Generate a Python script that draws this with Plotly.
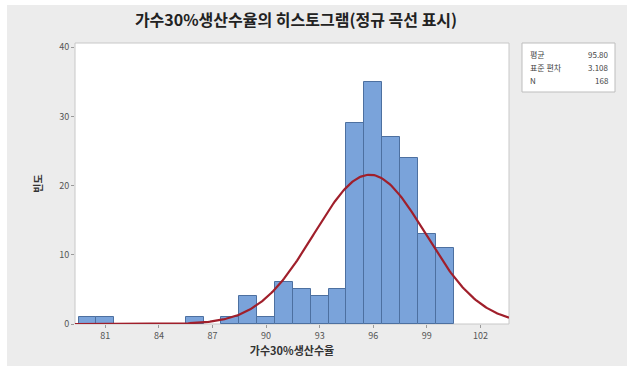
import numpy as np
import plotly.graph_objects as go

# Histogram bins (midpoints, width 1) and counts
bin_mid = [80, 81, 86, 88, 89, 90, 91, 92, 93, 94, 95, 96, 97, 98, 99, 100]
counts = [1, 1, 1, 1, 4, 1, 6, 5, 4, 5, 29, 35, 27, 24, 13, 11]

# Summary statistics shown in the side box
mean_val = 95.80
std_val = 3.108
n_val = 168
bin_width = 1.0

x_ticks = [81, 84, 87, 90, 93, 96, 99, 102]
y_ticks = [0, 10, 20, 30, 40]

title_text = "가수30%생산수율의 히스토그램(정규 곡선 표시)"
x_title = "가수30%생산수율"
y_title = "빈도"

FONT = "Noto Sans CJK KR"
W, H = 636, 372
ML, MR, MT, MB = 75, 127, 43, 48

# Fitted normal curve scaled to counts
xs = np.linspace(79.3, 103.6, 300)
ys = n_val * bin_width / (std_val * np.sqrt(2 * np.pi)) * np.exp(-0.5 * ((xs - mean_val) / std_val) ** 2)

fig = go.Figure()
fig.add_trace(go.Bar(
    x=bin_mid, y=counts, width=bin_width,
    marker=dict(color="#7aa3da", line=dict(color="#4d70a0", width=1)),
    hoverinfo="x+y",
))
fig.add_trace(go.Scatter(
    x=xs, y=ys, mode="lines",
    line=dict(color="#a01f2b", width=2.2),
    hoverinfo="skip",
))

pw = W - ML - MR
ph = H - MT - MB


def px_x(p):
    return (p - ML) / pw


def px_y(p):
    return (H - MB - p) / ph


# Light gray panel behind the chart with white surround
fig.add_shape(type="rect", xref="paper", yref="paper", layer="below",
              x0=px_x(7), x1=px_x(627), y0=px_y(366), y1=px_y(5),
              fillcolor="#ececec", line=dict(width=0))
fig.add_shape(type="rect", xref="paper", yref="paper", layer="below",
              x0=0, x1=1, y0=0, y1=1,
              fillcolor="white", line=dict(color="#c8c8c8", width=1))

# Statistics box
fig.add_shape(type="rect", xref="paper", yref="paper",
              x0=px_x(522), x1=px_x(615), y0=px_y(92), y1=px_y(43),
              fillcolor="white", line=dict(color="#bdbdbd", width=1))
stats = [("평균", f"{mean_val:.2f}"), ("표준 편차", f"{std_val:.3f}"), ("N", f"{n_val}")]
for i, (lab, val) in enumerate(stats):
    yy = px_y(55 + i * 12.5)
    fig.add_annotation(xref="paper", yref="paper", x=px_x(528), y=yy, text=lab,
                       showarrow=False, xanchor="left", yanchor="middle",
                       font=dict(family=FONT, size=8, color="#444"))
    fig.add_annotation(xref="paper", yref="paper", x=px_x(611), y=yy, text=val,
                       showarrow=False, xanchor="right", yanchor="middle",
                       font=dict(family=FONT, size=8, color="#444"))

fig.update_layout(
    width=W, height=H,
    margin=dict(l=ML, r=MR, t=MT, b=MB),
    paper_bgcolor="white", plot_bgcolor="rgba(0,0,0,0)",
    showlegend=False, bargap=0,
    title=dict(text=f"<b>{title_text}</b>", xref="container", x=296 / W, xanchor="center",
               yref="container", y=1 - 20 / H, yanchor="middle",
               font=dict(family=FONT, size=16, color="#222")),
    font=dict(family=FONT),
)
fig.update_xaxes(
    range=[79.3, 103.6], tickvals=x_ticks, ticks="outside", ticklen=3,
    tickcolor="#9a9a9a", showgrid=False, zeroline=False, showline=False,
    tickfont=dict(family=FONT, size=9, color="#555"),
    title=dict(text=f"<b>{x_title}</b>", font=dict(family=FONT, size=11, color="#333"), standoff=6),
)
fig.update_yaxes(
    range=[0, 40.6], tickvals=y_ticks, ticks="outside", ticklen=3,
    tickcolor="#9a9a9a", showgrid=False, zeroline=False, showline=False,
    tickfont=dict(family=FONT, size=9, color="#555"),
    title=dict(text=f"<b>{y_title}</b>", font=dict(family=FONT, size=10, color="#333"), standoff=14),
)

fig.write_html("out.html")
